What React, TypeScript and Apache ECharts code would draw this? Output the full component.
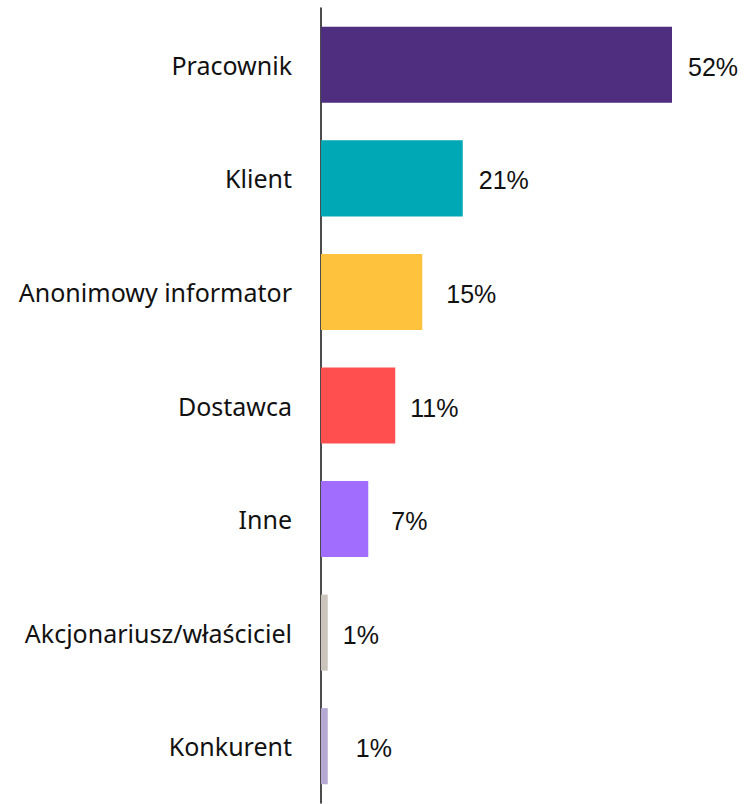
import React, { useEffect, useRef } from "react";
import * as echarts from "echarts";

const categories = [
  "Pracownik",
  "Klient",
  "Anonimowy informator",
  "Dostawca",
  "Inne",
  "Akcjonariusz/właściciel",
  "Konkurent",
];
const values = [52, 21, 15, 11, 7, 1, 1];
const colors = ["#4f2d7f", "#00a7b5", "#ffc23d", "#ff4f4f", "#a06dff", "#cbc4bc", "#b5a8d3"];
const labelGaps = [16, 16, 24, 15, 23, 15, 28];

export default function App() {
  const ref = useRef<HTMLDivElement>(null);
  useEffect(() => {
    if (!ref.current) return;
    const chart = echarts.init(ref.current, null, { renderer: "svg" });
    chart.setOption({
      animation: false,
      grid: { left: 321, right: 74, top: 8, bottom: 1, containLabel: false },
      xAxis: {
        type: "value",
        min: 0,
        max: 52,
        show: false,
      },
      yAxis: {
        type: "category",
        inverse: true,
        data: categories,
        axisLine: { show: true, lineStyle: { color: "#111", width: 1.5 } },
        axisTick: { show: false },
        axisLabel: {
          margin: 29,
          color: "#111",
          fontFamily: "'Noto Sans', sans-serif",
          fontSize: 25,
          padding: [0, 0, 5, 0],
        },
      },
      series: [
        {
          type: "bar",
          barCategoryGap: "33%",
          data: values.map((v, i) => ({
            value: v,
            itemStyle: { color: colors[i] },
            label: { distance: labelGaps[i] },
          })),
          label: {
            show: true,
            position: "right",
            formatter: "{c}%",
            color: "#111",
            fontFamily: "'Liberation Sans', Arial, sans-serif",
            fontSize: 25,
            offset: [0, 2],
          },
        },
      ],
    });
    return () => chart.dispose();
  }, []);
  return <div ref={ref} style={{ width: 746, height: 804, position: "absolute", left: 0, top: 0 }} />;
}
